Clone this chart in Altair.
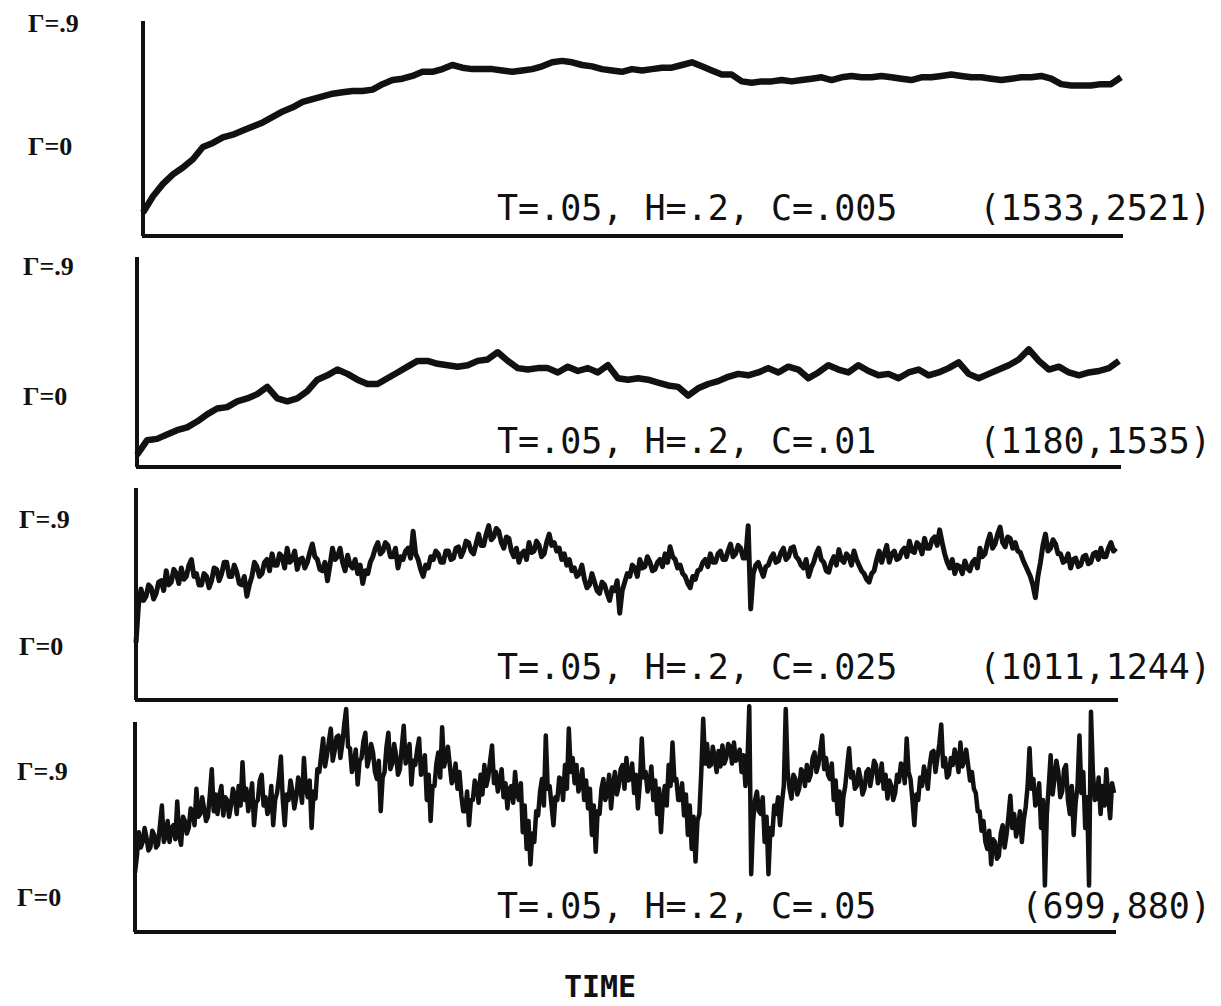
import altair as alt
import pandas as pd

# ---- data: order parameter Gamma versus time, four runs ----
gamma_c005 = [-0.48, -0.36, -0.27, -0.20, -0.15, -0.09, 0.00, 0.03, 0.07, 0.09, 0.12, 0.15, 0.18,
              0.22, 0.26, 0.29, 0.33, 0.35, 0.37, 0.39, 0.40, 0.41, 0.41, 0.42, 0.46, 0.49, 0.50,
              0.52, 0.55, 0.55, 0.57, 0.60, 0.58, 0.57, 0.57, 0.57, 0.56, 0.55, 0.56, 0.57, 0.59,
              0.62, 0.63, 0.62, 0.60, 0.59, 0.57, 0.56, 0.55, 0.57, 0.56, 0.57, 0.58, 0.58, 0.60,
              0.62, 0.59, 0.56, 0.53, 0.53, 0.48, 0.47, 0.48, 0.48, 0.49, 0.48, 0.49, 0.50, 0.51,
              0.49, 0.51, 0.52, 0.51, 0.51, 0.52, 0.51, 0.50, 0.49, 0.51, 0.51, 0.52, 0.53, 0.52,
              0.51, 0.51, 0.50, 0.49, 0.50, 0.51, 0.51, 0.52, 0.50, 0.46, 0.45, 0.45, 0.45, 0.46,
              0.46, 0.51]

gamma_c01 = [-0.40, -0.30, -0.29, -0.26, -0.23, -0.21, -0.17, -0.12, -0.08, -0.07, -0.03, -0.01,
             0.02, 0.07, -0.01, -0.03, -0.01, 0.04, 0.12, 0.15, 0.19, 0.16, 0.12, 0.09, 0.09, 0.13,
             0.17, 0.21, 0.25, 0.25, 0.23, 0.22, 0.21, 0.22, 0.25, 0.26, 0.31, 0.25, 0.20, 0.19,
             0.20, 0.20, 0.17, 0.21, 0.18, 0.20, 0.17, 0.22, 0.13, 0.12, 0.13, 0.12, 0.10, 0.08,
             0.07, 0.01, 0.06, 0.09, 0.11, 0.14, 0.16, 0.15, 0.17, 0.20, 0.17, 0.21, 0.19, 0.13,
             0.17, 0.22, 0.19, 0.17, 0.22, 0.18, 0.15, 0.16, 0.13, 0.17, 0.19, 0.15, 0.17, 0.20,
             0.24, 0.16, 0.13, 0.16, 0.19, 0.22, 0.26, 0.33, 0.25, 0.19, 0.21, 0.17, 0.15, 0.17,
             0.18, 0.20, 0.25]

gamma_c025 = [
    0.03, 0.30, 0.41, 0.33, 0.36, 0.44, 0.42, 0.34, 0.38, 0.46, 0.47, 0.40, 0.54, 0.44, 0.46, 0.55,
    0.52, 0.45, 0.56, 0.48, 0.50, 0.58, 0.62, 0.50, 0.52, 0.44,
    0.44, 0.52, 0.50, 0.42, 0.47, 0.56, 0.55, 0.47, 0.52, 0.60, 0.60, 0.50, 0.50, 0.58, 0.53, 0.45,
    0.44, 0.50, 0.36, 0.44, 0.50, 0.60, 0.57, 0.50, 0.52, 0.60, 0.62, 0.54,
    0.66, 0.58, 0.58, 0.66, 0.64, 0.56, 0.70, 0.60, 0.62, 0.68, 0.55, 0.62, 0.63, 0.56, 0.60, 0.67,
    0.73, 0.64, 0.62, 0.55, 0.54, 0.60, 0.47, 0.58, 0.70, 0.62, 0.64, 0.70,
    0.60, 0.54, 0.65, 0.58, 0.56, 0.62, 0.52, 0.58, 0.45, 0.54, 0.52, 0.60, 0.64, 0.70, 0.74, 0.66,
    0.68, 0.74, 0.72, 0.64, 0.64, 0.70, 0.56, 0.64, 0.62, 0.68, 0.70, 0.63,
    0.82, 0.66, 0.62, 0.55, 0.50, 0.58, 0.56, 0.64, 0.62, 0.68, 0.66, 0.60, 0.60, 0.68, 0.68, 0.62,
    0.63, 0.70, 0.71, 0.64, 0.68, 0.75, 0.74, 0.68, 0.66, 0.73, 0.80, 0.72,
    0.72, 0.80, 0.86, 0.76, 0.78, 0.84, 0.82, 0.74, 0.70, 0.78, 0.77, 0.68, 0.64, 0.70, 0.60, 0.66,
    0.68, 0.62, 0.74, 0.67, 0.68, 0.75, 0.72, 0.64, 0.66, 0.74, 0.80, 0.72,
    0.74, 0.68, 0.70, 0.62, 0.66, 0.58, 0.62, 0.54, 0.56, 0.50, 0.52, 0.58, 0.48, 0.42, 0.44, 0.52,
    0.46, 0.40, 0.38, 0.46, 0.44, 0.38, 0.33, 0.42, 0.40, 0.47, 0.24, 0.40,
    0.46, 0.52, 0.50, 0.58, 0.56, 0.50, 0.62, 0.56, 0.57, 0.64, 0.60, 0.54, 0.55, 0.60, 0.62, 0.57,
    0.66, 0.60, 0.71, 0.64, 0.62, 0.56, 0.58, 0.52, 0.50, 0.45, 0.42, 0.50,
    0.48, 0.54, 0.55, 0.60, 0.62, 0.57, 0.66, 0.60, 0.60, 0.66, 0.68, 0.62, 0.62, 0.68, 0.73, 0.64,
    0.66, 0.72, 0.70, 0.63, 0.63, 0.86, 0.27, 0.52, 0.58,
    0.60, 0.55, 0.50, 0.57, 0.58, 0.63, 0.66, 0.60, 0.61, 0.67, 0.70, 0.62, 0.64, 0.70, 0.71, 0.64,
    0.62, 0.58, 0.56, 0.62, 0.50, 0.56, 0.60, 0.66, 0.70, 0.62, 0.60, 0.54,
    0.53, 0.60, 0.64, 0.58, 0.69, 0.62, 0.60, 0.66, 0.64, 0.58, 0.68, 0.62, 0.58, 0.54, 0.52, 0.48,
    0.46, 0.52, 0.54, 0.62, 0.68, 0.60, 0.66, 0.72, 0.60, 0.66, 0.68, 0.62,
    0.63, 0.68, 0.70, 0.64, 0.75, 0.68, 0.67, 0.74, 0.72, 0.66, 0.77, 0.70, 0.70, 0.76, 0.78, 0.72,
    0.83, 0.74, 0.66, 0.60, 0.56, 0.62, 0.52, 0.58, 0.57, 0.52, 0.61, 0.56,
    0.54, 0.60, 0.62, 0.56, 0.70, 0.64, 0.66, 0.74, 0.80, 0.70, 0.73, 0.80, 0.85, 0.74, 0.71, 0.78,
    0.77, 0.70, 0.74, 0.68, 0.67, 0.62, 0.58, 0.54, 0.50, 0.44, 0.35, 0.50,
    0.60, 0.72, 0.80, 0.68, 0.70, 0.76, 0.73, 0.66, 0.66, 0.60, 0.61, 0.66, 0.56, 0.62, 0.63, 0.57,
    0.58, 0.64, 0.65, 0.59, 0.60, 0.66, 0.67, 0.62, 0.70, 0.64, 0.64, 0.70,
    0.74, 0.68, 0.70]

gamma_c05 = [
    0.18, 0.30, 0.47, 0.36, 0.40, 0.50, 0.43, 0.34, 0.36, 0.48, 0.45, 0.36, 0.38, 0.52, 0.66, 0.40,
    0.44, 0.55, 0.40, 0.50, 0.52, 0.42, 0.69, 0.45, 0.38, 0.58, 0.55, 0.46,
    0.50, 0.64, 0.62, 0.52, 0.78, 0.58, 0.60, 0.72, 0.64, 0.55, 0.58, 0.74, 0.92, 0.62, 0.74, 0.60,
    0.73, 0.80, 0.59, 0.72, 0.70, 0.58, 0.66, 0.78, 0.73, 0.60, 0.80, 0.66,
    0.97, 0.70, 0.78, 0.62, 0.71, 0.82, 0.52, 0.68, 0.70, 0.84, 0.88, 0.66, 0.72, 0.60, 0.64, 0.80,
    0.52, 0.70, 0.75, 0.86, 1.01, 0.70, 0.52, 0.74, 0.70, 0.84, 0.76, 0.64,
    0.72, 0.86, 0.80, 0.68, 1.00, 0.78, 0.72, 0.84, 0.50, 0.76, 0.71, 0.92, 0.90, 1.02, 1.14, 0.94,
    1.02, 1.12, 1.21, 0.98, 1.05, 1.15, 1.16, 1.00, 1.10, 1.24, 1.35, 1.08,
    1.07, 0.90, 0.95, 1.06, 0.81, 0.98, 1.00, 1.12, 1.18, 0.94, 1.00, 1.10, 1.04, 0.90, 0.85, 0.98,
    0.62, 0.86, 0.90, 1.08, 1.18, 0.92, 0.96, 1.10, 1.02, 0.88, 0.92, 1.08,
    1.23, 0.96, 1.00, 1.10, 0.81, 0.98, 0.95, 1.06, 1.14, 0.88, 0.90, 1.02, 0.70, 0.88, 0.55, 0.80,
    0.80, 0.96, 1.04, 0.86, 1.22, 0.94, 1.00, 1.08, 0.95, 0.82, 0.85, 0.96,
    0.78, 0.90, 0.73, 0.62, 0.62, 0.76, 0.52, 0.70, 0.70, 0.84, 0.80, 0.68, 0.88, 0.74, 0.95, 0.80,
    0.86, 0.98, 1.09, 0.82, 0.90, 0.76, 0.83, 0.92, 0.72, 0.82, 0.64, 0.78,
    0.80, 0.68, 0.90, 0.74, 0.70, 0.82, 0.47, 0.66, 0.35, 0.55, 0.24, 0.46, 0.40, 0.62, 0.59, 0.76,
    0.85, 0.66, 1.16, 0.78, 0.80, 0.66, 0.52, 0.72, 0.70, 0.86, 0.85, 0.70,
    0.95, 0.78, 1.21, 0.90, 1.00, 0.82, 0.95, 0.76, 0.80, 0.92, 0.70, 0.84, 0.64, 0.78, 0.45, 0.66,
    0.33, 0.62, 0.60, 0.78, 0.85, 0.70, 0.75, 0.88, 0.64, 0.80, 0.90, 0.74,
    0.80, 0.92, 0.95, 0.78, 1.00, 0.84, 0.85, 0.96, 0.75, 0.88, 0.64, 0.82, 1.14, 0.86, 0.90, 0.76,
    0.81, 0.94, 0.70, 0.84, 0.60, 0.78, 0.47, 0.70, 0.80, 0.66, 0.95, 0.80,
    1.11, 0.84, 0.85, 0.70, 0.70, 0.82, 0.59, 0.74, 0.45, 0.66, 0.35, 0.58, 0.26, 0.55, 0.60, 0.90,
    1.28, 0.96, 1.10, 0.94, 0.95, 1.08, 1.00, 0.90, 1.05, 0.94, 1.09, 0.96,
    1.00, 1.10, 1.08, 0.96, 1.11, 0.98, 1.00, 1.06, 0.90, 1.02, 0.80, 0.95, 1.37, 0.17, 0.55, 0.70,
    0.76, 0.62, 0.60, 0.72, 0.40, 0.58, 0.17, 0.50, 0.45, 0.66,
    0.60, 0.72, 0.52, 0.68, 0.80, 1.35, 0.90, 0.78, 0.71, 0.88, 0.85, 0.74, 0.78, 0.92, 0.90, 0.80,
    0.95, 0.84, 0.88, 1.00, 1.04, 0.90, 0.95, 1.06, 1.16, 0.92,
    1.00, 0.88, 0.85, 0.96, 0.70, 0.84, 0.60, 0.76, 0.52, 0.72, 0.80, 0.94, 1.07, 0.86, 0.90, 0.78,
    0.80, 0.92, 0.85, 0.74, 0.78, 0.90, 0.92, 0.80, 0.88, 0.98, 0.95, 0.82,
    0.85, 0.96, 0.78, 0.88, 0.71, 0.84, 0.80, 0.70, 0.75, 0.88, 0.83, 0.96, 0.95, 0.82, 1.14, 0.90,
    0.85, 0.70, 0.52, 0.74, 0.70, 0.86, 0.80, 0.94, 0.88, 0.78, 0.95, 1.04,
    1.05, 0.90, 1.00, 1.10, 1.24, 0.94, 1.00, 0.86, 0.88, 1.00, 0.95, 1.06, 1.00, 0.90, 1.11, 0.94,
    0.98, 1.06, 0.95, 0.84, 0.90, 0.78, 0.75, 0.62, 0.62, 0.48, 0.55, 0.40,
    0.35, 0.48, 0.24, 0.42, 0.40, 0.28, 0.30, 0.46, 0.52, 0.36, 0.45, 0.58, 0.73, 0.50, 0.60, 0.44,
    0.50, 0.62, 0.40, 0.56, 0.65, 0.80, 1.07, 0.78, 0.85, 0.66, 0.69, 0.82,
    0.50, 0.70, 0.09, 0.60, 0.80, 1.02, 0.74, 0.85, 0.98, 0.90, 0.72, 0.76, 0.92, 0.95, 0.70, 0.60,
    0.80, 0.45, 0.68, 0.80, 1.16, 0.75, 0.90, 0.50, 0.72,
    0.09, 1.33, 0.90, 0.70, 0.71, 0.86, 0.60, 0.80, 0.66, 0.92, 0.72, 0.57, 0.82, 0.75]

run_params = ["T=.05, H=.2, C=.005", "T=.05, H=.2, C=.01", "T=.05, H=.2, C=.025", "T=.05, H=.2, C=.05"]
run_counts = ["(1533,2521)", "(1180,1535)", "(1011,1244)", "(699,880)"]
gamma_ticks = [0.0, 0.9]
gamma_tick_labels = ["\u0393=0", "\u0393=.9"]
series = [gamma_c005, gamma_c01, gamma_c025, gamma_c05]

# ---- layout (pixels, local to each stacked cell) ----
CELL_W = 1205
layout = [
    dict(h=239, g0=139, g9=16, top=13, bot=228, xl=135, xr=1113, lx=20, tb=212, sw=6.5),
    dict(h=229, g0=150, g9=20, top=10, bot=220, xl=129, xr=1111, lx=15, tb=206, sw=6.5),
    dict(h=228, g0=171, g9=44, top=12, bot=224, xl=128, xr=1108, lx=11, tb=203, sw=5.0),
    dict(h=296, g0=194, g9=68, top=18, bot=228, xl=127, xr=1106, lx=9, tb=214, sw=4.5),
]

INK = "#111111"
panels = []
for i, (vals, L) in enumerate(zip(series, layout)):
    df = pd.DataFrame({"t": list(range(len(vals))), "gamma": vals})
    xs = alt.Scale(domain=[0, len(vals) - 1], range=[L["xl"], L["xr"]], nice=False, zero=False)
    ys = alt.Scale(domain=[0, 0.9], range=[L["g0"], L["g9"]], nice=False, zero=False)

    line = alt.Chart(df).mark_line(color=INK, strokeWidth=L["sw"], strokeJoin="round").encode(
        x=alt.X("t:Q", scale=xs, axis=None),
        y=alt.Y("gamma:Q", scale=ys, axis=None),
    )
    yaxis = alt.Chart(df).mark_rule(color=INK, strokeWidth=3).encode(
        x=alt.value(L["xl"]), y=alt.value(L["top"]), y2=alt.value(L["bot"]))
    xaxis = alt.Chart(df).mark_rule(color=INK, strokeWidth=3).encode(
        x=alt.value(L["xl"] - 1), x2=alt.value(L["xr"] + 2), y=alt.value(L["bot"]))

    lab_df = pd.DataFrame({"gamma": gamma_ticks, "label": gamma_tick_labels})
    glabels = alt.Chart(lab_df).mark_text(
        font="Liberation Serif", fontSize=26, fontWeight="bold", align="left", baseline="middle", color=INK
    ).encode(x=alt.value(L["lx"]), y=alt.Y("gamma:Q", scale=ys, axis=None), text="label:N")

    ann_df = pd.DataFrame({"p": [run_params[i]], "c": [run_counts[i]]})
    params = alt.Chart(ann_df).mark_text(
        font="DejaVu Sans Mono", fontSize=35, align="left", baseline="alphabetic", color=INK
    ).encode(x=alt.value(489), y=alt.value(L["tb"]), text="p:N")
    counts = alt.Chart(ann_df).mark_text(
        font="DejaVu Sans Mono", fontSize=35, align="right", baseline="alphabetic", color=INK
    ).encode(x=alt.value(1203), y=alt.value(L["tb"]), text="c:N")

    layers = [line, yaxis, xaxis, glabels, params, counts]
    if i == 3:
        tdf = pd.DataFrame({"t": ["TIME"]})
        layers.append(alt.Chart(tdf).mark_text(
            font="DejaVu Sans Mono", fontSize=30, fontWeight="bold", align="center", baseline="middle", color=INK
        ).encode(x=alt.value(592), y=alt.value(284), text="t:N"))
    panels.append(alt.layer(*layers).properties(width=CELL_W, height=L["h"]))

chart = alt.VConcatChart(vconcat=panels, spacing=0, bounds="flush", padding=0).configure_view(stroke=None)
chart.save("out.html", embed_options={"renderer": "svg", "actions": False})
